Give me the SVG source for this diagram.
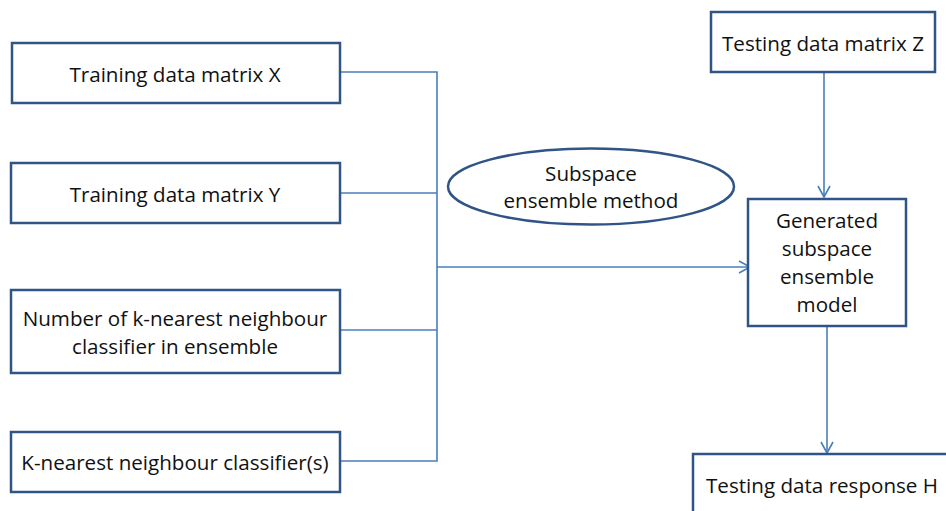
<svg xmlns="http://www.w3.org/2000/svg" width="946" height="511" viewBox="0 0 946 511">
<defs>
<marker id="ah" markerWidth="14" markerHeight="14" refX="12" refY="7" orient="auto" markerUnits="userSpaceOnUse">
<path d="M1,1 L12,7 L1,13" fill="none" stroke="#4a7ebb" stroke-width="1.6"/>
</marker>
</defs>
<style>
.box{fill:#fff;stroke:#2f5485;stroke-width:2.5}
.t{font-family:"Open Sans","Liberation Sans",Arial,sans-serif;font-size:20.6px;fill:#111;text-anchor:middle}
.c{fill:none;stroke:#4a7ebb;stroke-width:1.6}
</style>
<rect width="946" height="511" fill="#fff"/>
<g id="connectors">
<path class="c" d="M340,72 H437 V461 H340"/>
<path class="c" d="M340,193 H437"/>
<path class="c" d="M340,330 H437"/>
<path class="c" d="M437,267 H750" marker-end="url(#ah)"/>
<path class="c" d="M824,72 V197" marker-end="url(#ah)"/>
<path class="c" d="M827,326 V453" marker-end="url(#ah)"/>
</g>
<g id="nodeX"><rect class="box" x="12" y="43" width="328" height="60"/><text class="t" x="175" y="82">Training data matrix X</text></g>
<g id="nodeY"><rect class="box" x="11" y="163" width="329" height="60"/><text class="t" x="175" y="202">Training data matrix Y</text></g>
<g id="nodeN"><rect class="box" x="11" y="290" width="329" height="83"/><text class="t" x="175" y="326">Number of k-nearest neighbour</text><text class="t" x="175" y="354">classifier in ensemble</text></g>
<g id="nodeK"><rect class="box" x="11" y="432" width="329" height="60"/><text class="t" x="175" y="470">K-nearest neighbour classifier(s)</text></g>
<g id="nodeE"><ellipse cx="591" cy="186.5" rx="143" ry="38" fill="#fff" stroke="#2f5485" stroke-width="2.5"/><text class="t" x="591" y="181">Subspace</text><text class="t" x="591" y="208">ensemble method</text></g>
<g id="nodeZ"><rect class="box" x="711" y="12" width="224" height="60"/><text class="t" x="823" y="51">Testing data matrix Z</text></g>
<g id="nodeG"><rect class="box" x="748" y="199" width="158" height="127"/><text class="t" x="827" y="228">Generated</text><text class="t" x="827" y="256">subspace</text><text class="t" x="827" y="284">ensemble</text><text class="t" x="827" y="312">model</text></g>
<g id="nodeH"><rect class="box" x="693" y="454" width="270" height="70"/><text class="t" x="822" y="493">Testing data response H</text></g>
</svg>
